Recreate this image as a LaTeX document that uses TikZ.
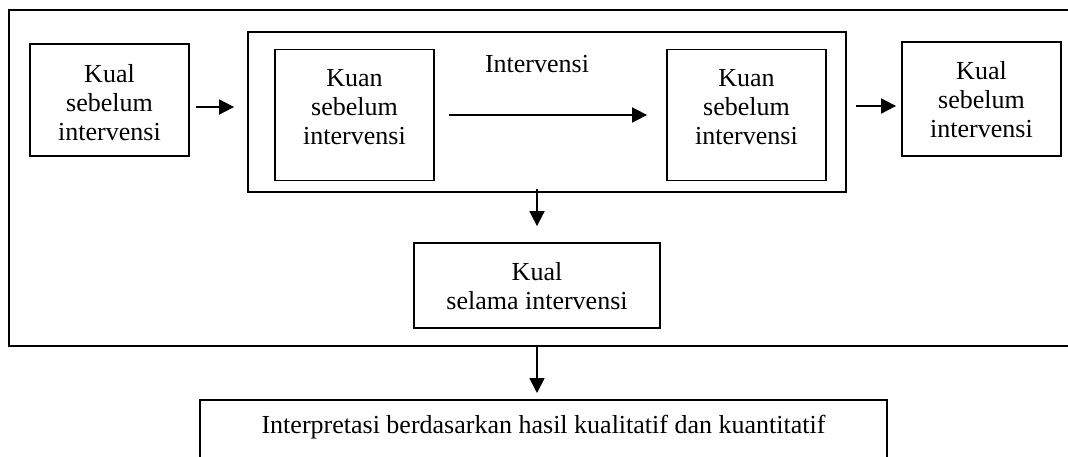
\documentclass[tikz,border=0pt]{standalone}
\usepackage{fontspec}
\setmainfont{Liberation Serif}
\usetikzlibrary{arrows.meta}

\begin{document}
\begin{tikzpicture}[x=1pt, y=-1pt,
    box/.style={draw, line width=1.8pt, rectangle, inner sep=0pt, align=center, font=\fontsize{26}{29}\selectfont},
    arr/.style={-{Triangle[length=15pt, width=15pt]}, line width=1.8pt}]
            \useasboundingbox (0,0) rectangle (1068,456);
            % outer frame, its right side runs past the page
            \node[box, minimum width=1066pt, minimum height=336pt] (frame) at (542,178) {};
            \node[box, minimum width=159pt, minimum height=112pt, text height=86pt, text depth=6pt] (kualpre) at (109.5,100) {Kual\\sebelum\\intervensi};
            \node[box, minimum width=598pt, minimum height=160pt] (interv) at (547,112) {};
            \node[font=\fontsize{26}{29}\selectfont, anchor=base, inner sep=0pt] (intlabel) at (537,72) {Intervensi};
            \node[box, minimum width=159pt, minimum height=131pt, text height=65pt, text depth=6pt] (kuanpre) at (354.5,115) {Kuan\\sebelum\\intervensi};
            \node[box, minimum width=159pt, minimum height=131pt, text height=65pt, text depth=6pt] (kuanpost) at (746.5,115) {Kuan\\sebelum\\intervensi};
            \node[box, minimum width=159pt, minimum height=114pt, text height=82pt, text depth=6pt] (kualpost) at (981.5,99) {Kual\\sebelum\\intervensi};
            \node[box, minimum width=246pt, minimum height=85pt, text height=53pt, text depth=6pt] (kualdur) at (537,285.5) {Kual\\selama intervensi};
            % bottom box, cut off by the page edge
            \node[box, anchor=north, minimum width=687pt, text height=34pt, text depth=40pt] (interp) at (543.5,399) {Interpretasi berdasarkan hasil kualitatif dan kuantitatif};
            \draw[arr] ([xshift=6pt,yshift=-7pt]kualpre.east) -- ([xshift=-13pt,yshift=-7pt]kualpre.east -| interv.west);
            \draw[arr, shorten <=14pt, shorten >=19pt] (kuanpre) -- (kuanpost);
            \draw[arr] ([xshift=9pt,yshift=-7pt]kualpost.west -| interv.east) -- ([xshift=-5pt,yshift=-7pt]kualpost.west);
            \draw[arr] ([yshift=4pt]kualdur.north |- interv.south) -- ([yshift=16pt]kualdur.north);
            \draw[arr] (kualdur.south |- frame.south) -- ([yshift=6pt]kualdur.south |- interp.north);
        \end{tikzpicture}
\end{document}
